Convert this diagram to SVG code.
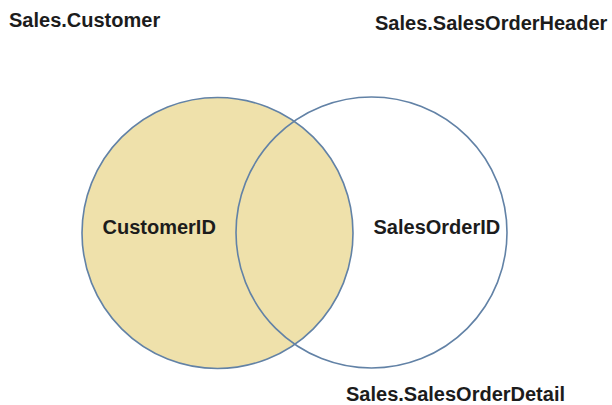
<svg xmlns="http://www.w3.org/2000/svg" width="612" height="405" viewBox="0 0 612 405">
<style>
.lbl{font-family:"Liberation Sans",Arial,sans-serif;font-weight:bold;font-size:20px;fill:#1c1c1c}
.set{stroke:#6282a6;stroke-width:1.6}
</style>
<rect width="612" height="405" fill="#ffffff"/>
<g id="customer">
<circle class="set" cx="217.5" cy="233" r="135.5" fill="#efe1ab"/>
<text class="lbl" x="102.5" y="234">CustomerID</text>
</g>
<g id="salesorderheader">
<circle class="set" cx="371.5" cy="232.5" r="135.5" fill="none"/>
<text class="lbl" x="373.5" y="234">SalesOrderID</text>
</g>
<text class="lbl" x="9" y="27">Sales.Customer</text>
<text class="lbl" x="375" y="30">Sales.SalesOrderHeader</text>
<text class="lbl" x="346" y="401">Sales.SalesOrderDetail</text>
</svg>
